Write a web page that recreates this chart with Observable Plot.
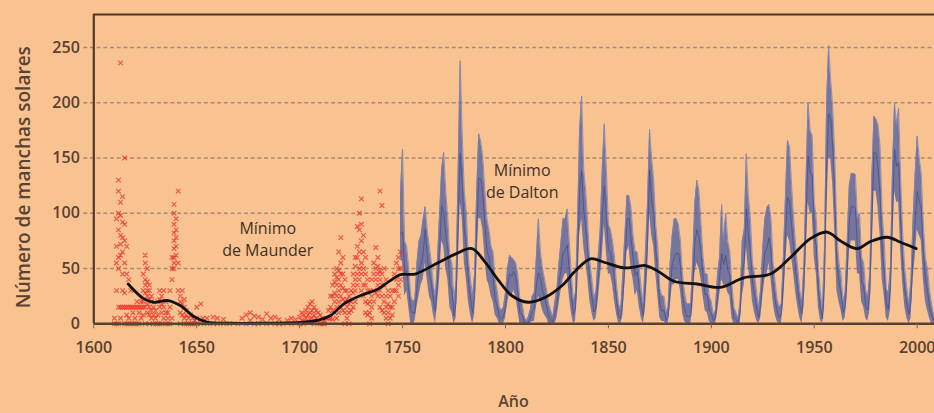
<!DOCTYPE html>
<html><head><meta charset="utf-8">
<script src="https://cdn.jsdelivr.net/npm/d3@7"></script>
<script src="https://cdn.jsdelivr.net/npm/@observablehq/plot@0.6"></script>
<style>
html,body{margin:0;padding:0;background:#f9c391;}
#chart{width:934px;height:413px;overflow:hidden;}
#chart svg{display:block;}
</style></head><body><div id="chart"></div>
<script>
// ---- tick labels
const xTicks = [1600, 1650, 1700, 1750, 1800, 1850, 1900, 1950, 2000];
const yTicks = [0, 50, 100, 150, 200, 250];

// ---- monthly sunspot record (blue), one entry per year from 1749 to 2010
const blueFirstYear = 1749;
const blueMean = [
  80.9, 83.4, 47.7, 47.8, 30.7, 12.2, 9.6, 10.2, 32.4, 47.6,
  54.0, 62.9, 85.9, 61.2, 45.1, 36.4, 20.9, 11.4, 37.8, 69.8,
  106.1, 100.8, 81.6, 66.5, 34.8, 30.6, 7.0, 19.8, 92.5, 154.4,
  125.9, 84.8, 68.1, 38.5, 22.8, 10.2, 24.1, 82.9, 132.0, 130.9,
  118.1, 89.9, 66.6, 60.0, 46.9, 41.0, 21.3, 16.0, 6.4, 4.1,
  6.8, 14.5, 34.0, 45.0, 43.1, 47.5, 42.2, 28.1, 10.1, 8.1,
  2.5, 0.0, 1.4, 5.0, 12.2, 13.9, 35.4, 45.8, 41.0, 30.1,
  23.9, 15.6, 6.6, 4.0, 1.8, 8.5, 16.6, 36.3, 49.6, 64.2,
  67.0, 70.9, 47.8, 27.5, 8.5, 13.2, 56.9, 121.5, 138.3, 103.2,
  85.7, 64.6, 36.7, 24.2, 10.7, 15.0, 40.1, 61.5, 98.5, 124.7,
  96.3, 66.6, 64.5, 54.1, 39.0, 20.6, 6.7, 4.3, 22.7, 54.8,
  93.8, 95.8, 77.2, 59.1, 44.0, 47.0, 30.5, 16.3, 7.3, 37.6,
  74.0, 139.0, 111.2, 101.6, 66.2, 44.7, 17.0, 11.3, 12.4, 3.4,
  6.0, 32.3, 54.3, 59.7, 63.7, 63.5, 52.2, 25.4, 13.1, 6.8,
  6.3, 7.1, 35.6, 73.0, 85.1, 78.0, 64.0, 41.8, 26.2, 26.7,
  12.1, 9.5, 2.7, 5.0, 24.4, 42.0, 63.5, 53.8, 62.0, 48.5,
  43.9, 18.6, 5.7, 3.6, 1.4, 9.6, 47.4, 57.1, 103.9, 80.6,
  63.6, 37.6, 26.1, 14.2, 5.8, 16.7, 44.3, 63.9, 69.0, 77.8,
  64.9, 35.7, 21.2, 11.1, 5.7, 8.7, 36.1, 79.7, 114.4, 109.6,
  88.8, 67.8, 47.5, 30.6, 16.3, 9.6, 33.2, 92.6, 151.6, 136.3,
  134.7, 83.9, 69.4, 31.5, 13.9, 4.4, 38.0, 141.7, 190.2, 184.8,
  159.0, 112.3, 53.9, 37.6, 27.9, 10.2, 15.1, 47.0, 93.8, 105.9,
  105.5, 104.5, 66.6, 68.9, 38.0, 34.5, 15.5, 12.6, 27.5, 92.5,
  155.4, 154.6, 140.4, 115.9, 66.6, 45.9, 17.9, 13.4, 29.4, 100.2,
  157.6, 142.6, 145.7, 94.3, 54.6, 29.9, 17.5, 8.6, 21.5, 64.3,
  93.3, 119.6, 111.0, 104.0, 63.7, 40.4, 29.8, 15.2, 7.5, 2.9,
  3.1, 16.5
];
const blueLow = [
  60, 55, 25, 30, 15, 0, 0, 2, 15, 25,
  35, 40, 55, 40, 25, 20, 8, 0, 20, 40,
  75, 70, 50, 40, 15, 10, 0, 5, 50, 110,
  95, 55, 40, 20, 8, 0, 8, 50, 95, 95,
  85, 60, 40, 35, 25, 20, 8, 5, 0, 0,
  0, 5, 18, 28, 25, 30, 25, 12, 0, 0,
  0, 0, 0, 0, 2, 2, 15, 25, 20, 12,
  8, 5, 0, 0, 0, 0, 5, 18, 30, 40,
  45, 45, 25, 10, 0, 2, 30, 80, 95, 70,
  55, 40, 20, 10, 2, 5, 20, 40, 60, 90,
  65, 45, 45, 35, 20, 8, 0, 0, 8, 35,
  65, 70, 50, 40, 25, 30, 15, 5, 0, 15,
  45, 100, 80, 70, 45, 25, 5, 2, 2, 0,
  0, 15, 35, 35, 40, 40, 30, 10, 2, 0,
  0, 0, 15, 45, 55, 50, 40, 25, 12, 10,
  2, 0, 0, 0, 10, 25, 40, 35, 35, 28,
  25, 5, 0, 0, 0, 0, 25, 35, 70, 50,
  40, 20, 10, 3, 0, 5, 25, 40, 45, 55,
  40, 20, 8, 2, 0, 0, 18, 50, 80, 75,
  60, 45, 28, 15, 5, 0, 15, 60, 110, 100,
  100, 60, 45, 15, 3, 0, 15, 95, 150, 150,
  125, 80, 30, 20, 12, 2, 5, 25, 65, 75,
  75, 75, 45, 45, 20, 15, 5, 2, 12, 60,
  120, 120, 105, 80, 40, 25, 5, 2, 12, 65,
  120, 110, 110, 65, 35, 15, 5, 0, 5, 40,
  60, 85, 80, 75, 40, 20, 12, 5, 0, 0,
  0, 5
];
const blueHigh = [
  120, 158, 75, 70, 50, 25, 20, 22, 55, 75,
  80, 95, 106, 85, 70, 55, 35, 25, 60, 100,
  140, 155, 120, 95, 60, 55, 20, 40, 140, 238,
  170, 120, 100, 60, 40, 25, 45, 120, 172, 165,
  150, 120, 95, 85, 70, 65, 40, 30, 15, 12,
  15, 28, 50, 62, 60, 58, 55, 45, 22, 20,
  8, 2, 6, 12, 25, 28, 60, 95, 65, 50,
  40, 30, 18, 12, 6, 20, 32, 55, 75, 95,
  95, 104, 75, 45, 20, 28, 90, 175, 206, 140,
  120, 90, 55, 40, 22, 30, 60, 85, 140, 181,
  140, 90, 85, 75, 60, 35, 18, 12, 45, 80,
  116, 116, 105, 80, 65, 65, 50, 30, 18, 65,
  110, 176, 150, 130, 90, 70, 32, 25, 25, 10,
  15, 55, 80, 95, 95, 90, 75, 45, 28, 18,
  18, 18, 60, 110, 130, 120, 90, 60, 45, 45,
  25, 20, 8, 12, 45, 60, 108, 75, 100, 75,
  65, 35, 15, 10, 5, 20, 75, 85, 154, 115,
  95, 55, 45, 28, 15, 32, 70, 95, 105, 108,
  95, 55, 38, 22, 15, 18, 60, 115, 166, 160,
  125, 95, 70, 50, 30, 20, 55, 130, 200, 175,
  170, 110, 95, 50, 28, 12, 70, 200, 252, 220,
  195, 150, 80, 55, 45, 20, 28, 75, 125, 136,
  136, 135, 95, 100, 60, 55, 30, 25, 45, 135,
  188, 185, 180, 160, 100, 75, 32, 28, 50, 140,
  200, 180, 195, 130, 80, 50, 32, 18, 40, 95,
  135, 170, 150, 135, 90, 60, 50, 30, 18, 8,
  10, 30
];

// ---- early telescopic observations (red crosses)
const redYears = [
  1610, 1611, 1612, 1613, 1614, 1615, 1616, 1617, 1618, 1619,
  1620, 1621, 1622, 1623, 1624, 1625, 1626, 1627, 1628, 1629,
  1630, 1631, 1632, 1633, 1634, 1635, 1636, 1637, 1638, 1639,
  1640, 1641, 1642, 1643, 1644, 1645, 1646, 1647, 1648, 1649,
  1650, 1652, 1653, 1655, 1658, 1660, 1663, 1666, 1670, 1672,
  1674, 1676, 1678, 1680, 1682, 1684, 1686, 1688, 1690, 1692,
  1694, 1696, 1698, 1700, 1701, 1702, 1703, 1704, 1705, 1706,
  1707, 1708, 1709, 1710, 1711, 1712, 1713, 1714, 1715, 1716,
  1717, 1718, 1719, 1720, 1721, 1722, 1723, 1724, 1725, 1726,
  1727, 1728, 1729, 1730, 1731, 1732, 1733, 1734, 1735, 1736,
  1737, 1738, 1739, 1740, 1741, 1742, 1743, 1744, 1745, 1746,
  1747, 1748, 1749
];
const redValues = [
  [0, 5], [55, 70, 0, 30, 95], [130, 120, 100, 85, 60, 50, 15, 0], [236, 110, 98, 80, 72, 62, 15, 5],
  [115, 92, 78, 65, 45, 30, 15], [150, 90, 75, 55, 28, 15, 0], [70, 45, 15, 8, 0], [40, 15, 5, 0],
  [15, 30, 0], [15, 10, 0],
  [15, 5, 0], [15, 20, 0], [15, 10, 0], [20, 15, 5], [45, 30, 20, 15, 8], [62, 55, 40, 35, 28, 15, 0],
  [50, 38, 30, 25, 18, 10], [35, 30, 22, 15, 8, 0], [25, 20, 12, 5], [15, 8, 0],
  [12, 5, 0], [20, 8, 0], [30, 22, 15, 0], [25, 18, 10, 0], [30, 15, 5], [20, 10, 0], [10, 5, 0],
  [15, 30, 0], [60, 50, 40, 5], [108, 100, 90, 82, 75, 68, 60, 55, 50],
  [95, 85, 78, 70, 62], [120, 55, 30], [25, 20, 10, 0], [30, 18, 8], [22, 15, 5, 0], [12, 8, 0],
  [5, 0], [8, 0], [5, 0], [3, 0],
  [15, 5, 0], [18, 0], [5], [5, 0], [6, 0], [5, 0], [4, 0], [0], [0], [5],
  [8, 0], [10, 3], [7, 0], [6, 0], [4], [9, 0], [5], [6, 0], [4, 0], [0],
  [3], [5, 0], [4], [6, 0], [10, 3], [8, 0], [12, 5], [15, 8, 2], [18, 10, 4], [20, 12, 5],
  [15, 8, 0], [12, 5], [10, 3], [8, 0], [5, 0], [3, 0], [5], [12, 5], [25, 15, 5], [35, 25, 12, 4],
  [45, 38, 28, 20, 10], [50, 42, 35, 25, 15, 5], [65, 48, 40, 30, 20, 10], [78, 55, 45, 35, 25, 15],
  [60, 45, 32, 22, 12], [40, 30, 20, 10, 0], [30, 22, 15, 5], [25, 18, 10, 0], [30, 20, 12], [45, 35, 28, 15],
  [60, 52, 40, 30, 20], [88, 70, 60, 45, 35], [100, 85, 65, 50, 40], [113, 90, 75, 55, 45, 30],
  [80, 65, 50, 35, 25], [60, 45, 35, 20, 10], [40, 30, 18, 8], [30, 20, 10, 0], [40, 25, 15, 5], [55, 45, 30, 20],
  [69, 50, 40, 28], [60, 52, 45, 35, 25], [120, 48, 40, 30, 15], [107, 45, 35, 25, 12], [50, 35, 20, 10],
  [40, 25, 15, 5], [30, 18, 10, 0], [25, 15, 5], [30, 15, 8], [45, 30, 20],
  [55, 40, 30], [60, 50, 35, 25], [65, 50, 40]
];

// ---- smoothed trend (black)
const trendYears = [1616.7, 1624, 1629, 1636, 1642, 1648.6, 1655, 1665, 1680, 1698,
  1708.5, 1715, 1721.5, 1729.6, 1737.7, 1744, 1749, 1756, 1766, 1775.6,
  1783.7, 1790, 1796.7, 1803, 1811, 1819.4, 1827.5, 1834, 1841.3, 1847.8,
  1857.5, 1863, 1868, 1873.7, 1881.8, 1893, 1904.4, 1915.7, 1928.7, 1938.4,
  1948.1, 1956.2, 1962.7, 1970.8, 1977.3, 1985.4, 1991.9, 1999.5];
const trendValues = [36, 23, 19.5, 21, 16.5, 6.6, 1.5, 0.5, 0.5, 1,
  3, 7.5, 18, 25.6, 31, 39, 44.5, 45, 54, 63,
  68, 56, 39, 25.6, 19.5, 24, 34.6, 48, 58.8, 55.7,
  50.6, 51.5, 52.7, 48, 38.5, 36, 33, 41.6, 45, 60,
  77, 83, 75, 68, 74.4, 78.3, 73.8, 68];

// ---- annotations
const noteText = ["Mínimo\nde Maunder", "Mínimo\nde Dalton"];
const noteYear = [1684.5, 1808.1];
const noteValue = [77.7, 130.3];

// ---- build tables
const blue = blueMean.map((m, i) => ({year: blueFirstYear + i, mean: m, lo: blueLow[i], hi: blueHigh[i]}));
const red = redYears.flatMap((yr, i) => redValues[i].map(v => ({year: yr, value: v})));
const trend = trendYears.map((yr, i) => ({year: yr, value: trendValues[i]}));
const notes = noteText.map((t, i) => ({t, year: noteYear[i], value: noteValue[i]}));

const ink = "#4d3a2e";
const yTop = 279.8;

const chart = Plot.plot({
  width: 934,
  height: 413,
  marginLeft: 93.3,
  marginRight: 0,
  marginTop: 14,
  marginBottom: 89.7,
  style: {background: "#f9c391", fontFamily: "'Open Sans', sans-serif", color: ink, overflow: "visible"},
  x: {domain: [1600, 2008.4]},
  y: {domain: [0, yTop]},
  marks: [
    Plot.ruleY(yTicks.filter(d => d > 0), {x1: 1595.1, x2: 2012, stroke: "#a88a74", strokeWidth: 1.6, strokeDasharray: "4,2.7"}),
    Plot.areaY(blue, {x: "year", y1: "lo", y2: "hi", fill: "#56629f", fillOpacity: 0.8, clip: true}),
    Plot.lineY(blue, {x: "year", y: "hi", stroke: "#7b82b5", strokeWidth: 0.8, clip: true}),
    Plot.lineY(blue, {x: "year", y: "mean", stroke: "#414d8c", strokeWidth: 0.9, strokeOpacity: 0.8, clip: true}),
    Plot.dot(red, {x: "year", y: "value", symbol: "times", r: 2.2, stroke: "#ea2a22", strokeWidth: 1.2, strokeOpacity: 0.7}),
    Plot.line(trend, {x: "year", y: "value", stroke: "#111", strokeWidth: 2.8, curve: "catmull-rom"}),
    Plot.ruleY([yTop], {stroke: ink, strokeWidth: 2.2}),
    Plot.ruleX([1600], {stroke: ink, strokeWidth: 2.2}),
    Plot.ruleY([0], {stroke: "#5a4334", strokeWidth: 2.6}),
    Plot.axisX(xTicks, {tickSize: 5, tickPadding: 13, fontSize: 16, fontWeight: 600, fill: "#5a4030", stroke: "#7a6050", label: null, tickFormat: d => String(d)}),
    Plot.axisY(yTicks, {tickSize: 0, tickPadding: 14, fontSize: 16, fontWeight: 600, fill: "#5a4030", label: null}),
    Plot.text(notes, {x: "year", y: "value", text: "t", fontSize: 16, fontWeight: 500, fill: "#3f3128", lineHeight: 1.4}),
    Plot.text(["Número de manchas solares"], {frameAnchor: "left", textAnchor: "middle", rotate: -90, dx: -70, dy: 8, fontSize: 19, fontWeight: 600, fill: "#5a4334"}),
    Plot.text(["Año"], {frameAnchor: "bottom", x: () => 1803.9, dy: 83.4, fontSize: 16, fontWeight: 600, fill: "#5a4334"})
  ]
});
document.getElementById("chart").appendChild(chart);
</script>
</body></html>
